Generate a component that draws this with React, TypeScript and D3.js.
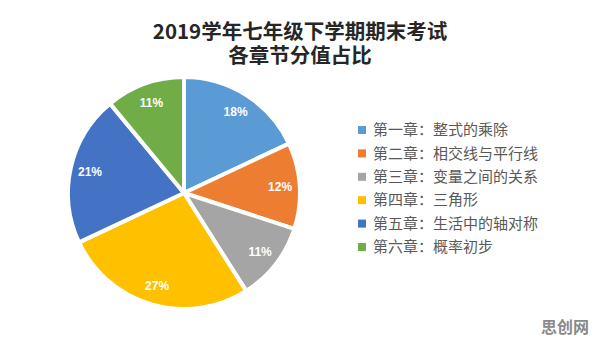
import * as d3 from "d3";
import * as React from "react";

const chapters = [
  "第一章：整式的乘除",
  "第二章：相交线与平行线",
  "第三章：变量之间的关系",
  "第四章：三角形",
  "第五章：生活中的轴对称",
  "第六章：概率初步",
];
const shares = [18, 12, 11, 27, 21, 11];
const colors = ["#5B9BD5", "#ED7D31", "#A5A5A5", "#FFC000", "#4472C4", "#70AD47"];
const titleLines = ["2019学年七年级下学期期末考试", "各章节分值占比"];

const W = 596;
const H = 346;
const cx = 184;
const cy = 193;
const radius = 116;

export default function App() {
  const ref = React.useRef<SVGSVGElement>(null);

  React.useEffect(() => {
    const svg = d3.select(ref.current);
    svg.selectAll("*").remove();

    svg.append("rect").attr("width", W).attr("height", H).attr("fill", "#ffffff");

    // title: one text, two lines
    svg
      .append("text")
      .attr("text-anchor", "middle")
      .attr("font-family", '"Noto Sans CJK SC", sans-serif')
      .attr("font-weight", "bold")
      .attr("font-size", 20.5)
      .attr("fill", "#262626")
      .selectAll("tspan")
      .data(titleLines)
      .enter()
      .append("tspan")
      .attr("x", 300)
      .attr("y", (d, i) => 39 + i * 24)
      .text((d) => d);

    const pie = d3
      .pie<number>()
      .sort(null)
      .value((d) => d);
    const arcs = pie(shares);

    const arc = d3.arc<d3.PieArcDatum<number>>().innerRadius(0).outerRadius(radius);
    const labelArc = d3
      .arc<d3.PieArcDatum<number>>()
      .innerRadius(radius * 0.83)
      .outerRadius(radius * 0.83);

    const g = svg.append("g").attr("transform", `translate(${cx}, ${cy})`);

    g.selectAll("path")
      .data(arcs)
      .enter()
      .append("path")
      .attr("d", arc)
      .attr("fill", (d, i) => colors[i])
      .attr("stroke", "#ffffff")
      .attr("stroke-width", 4)
      .attr("stroke-linejoin", "round");

    g.selectAll("text")
      .data(arcs)
      .enter()
      .append("text")
      .attr("transform", (d) => `translate(${labelArc.centroid(d)})`)
      .attr("text-anchor", "middle")
      .attr("dy", "0.35em")
      .attr("font-family", '"Liberation Sans", Arial, sans-serif')
      .attr("font-weight", "bold")
      .attr("font-size", 12)
      .attr("fill", "#ffffff")
      .text((d) => `${d.data}%`);

    // legend
    const legend = svg
      .append("g")
      .selectAll("g")
      .data(chapters)
      .enter()
      .append("g")
      .attr("transform", (d, i) => `translate(358, ${130 + i * 23.4})`);

    legend
      .append("rect")
      .attr("x", 0)
      .attr("y", -4)
      .attr("width", 8)
      .attr("height", 8)
      .attr("fill", (d, i) => colors[i]);

    legend
      .append("text")
      .attr("x", 15)
      .attr("dy", "0.35em")
      .attr("font-family", '"Noto Sans CJK SC", sans-serif')
      .attr("font-size", 15)
      .attr("fill", "#595959")
      .text((d) => d);

    // watermark
    svg
      .append("text")
      .attr("x", 589)
      .attr("y", 333)
      .attr("text-anchor", "end")
      .attr("font-family", '"Noto Sans CJK SC", sans-serif')
      .attr("font-weight", "bold")
      .attr("font-size", 16)
      .attr("fill", "#8a8a8a")
      .text("思创网");
  }, []);

  return (
    <svg
      ref={ref}
      width={W}
      height={H}
      style={{ position: "absolute", left: 0, top: 0, display: "block" }}
    />
  );
}
